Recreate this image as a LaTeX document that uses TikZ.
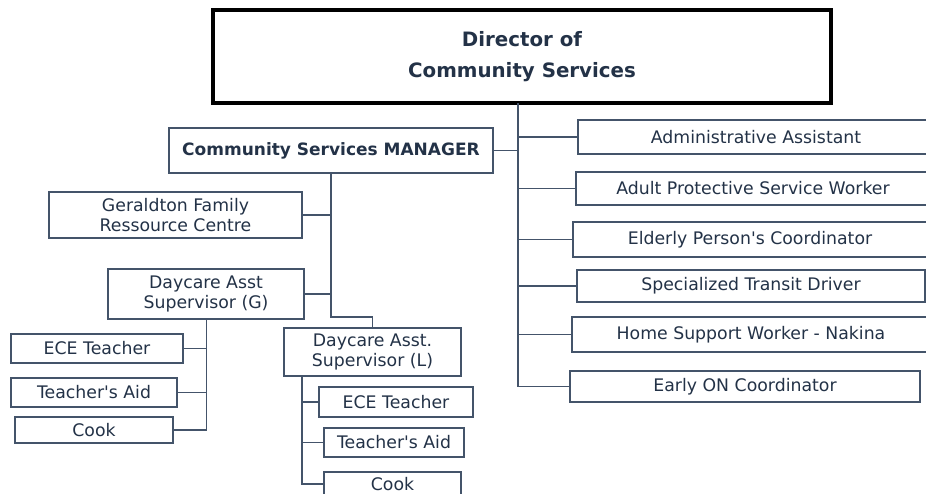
\documentclass[tikz,border=0pt]{standalone}
\usepackage{fontspec}
\setmainfont{DejaVu Sans}[Ligatures=TeXOff]
\definecolor{ink}{HTML}{233247}
\definecolor{rule}{HTML}{44546A}
\begin{document}
\begin{tikzpicture}[x=1pt,y=-1pt,
  box/.style={draw=rule,line width=1.6pt,fill=white,inner sep=0pt,text=ink,
    align=center,font=\fontsize{17.3}{19.5}\selectfont},
  link/.style={draw=rule,line width=1.6pt},
  chief/.style={draw=black,line width=4pt,fill=white,inner sep=0pt,text=ink,
    align=center,font=\bfseries\fontsize{19.8}{31}\selectfont}]
\clip (0,0) rectangle (926,493);
\fill[white] (0,0) rectangle (926,493);

% director
\node[chief,minimum width=618,minimum height=93] (dir) at (522,56.5) {Director of\\Community Services};
\coordinate (t) at (518,103);

% manager branch
\node[box,font=\bfseries\fontsize{17}{20}\selectfont,minimum width=324,minimum height=45] (mgr) at (331,150.5) {Community Services MANAGER};
\node[box,minimum width=253,minimum height=46] (ger) at (175.5,215) {Geraldton Family\\Ressource Centre};
\node[box,minimum width=196,minimum height=50] (dg) at (206,294) {Daycare Asst\\Supervisor (G)};
\node[box,minimum width=177,minimum height=48] (dl) at (372.5,352) {Daycare Asst.\\Supervisor (L)};

\node[box,minimum width=172,minimum height=29] (ece1) at (97,348.5) {ECE Teacher};
\node[box,minimum width=166,minimum height=29] (ta1) at (94,392.5) {Teacher's Aid};
\node[box,minimum width=158,minimum height=26] (cook1) at (94,430) {Cook};

\node[box,minimum width=154,minimum height=30] (ece2) at (396,402) {ECE Teacher};
\node[box,minimum width=140,minimum height=29] (ta2) at (394,442.5) {Teacher's Aid};
\node[box,minimum width=137,minimum height=24] (cook2) at (392.5,484) {Cook};

% direct reports of the director
\node[box,minimum width=356,minimum height=34] (adm) at (756,137) {Administrative Assistant};
\node[box,minimum width=354,minimum height=33] (apw) at (753,188.5) {Adult Protective Service Worker};
\node[box,minimum width=354,minimum height=35] (epc) at (750,239.5) {Elderly Person's Coordinator};
\node[box,minimum width=348,minimum height=32] (std) at (751,286) {Specialized Transit Driver};
\node[box,minimum width=358,minimum height=35] (hsw) at (751,334.5) {Home Support Worker - Nakina};
\node[box,minimum width=350,minimum height=31] (eon) at (745,386.5) {Early ON Coordinator};

% connectors
\foreach \n in {adm,apw,epc,std,hsw,eon} \draw[link] (t) |- (\n.west);
\draw[link] (mgr.east) -- (t |- mgr.east);
\draw[link] (mgr.south) |- (ger.east);
\draw[link] (mgr.south) |- (dg.east);
\coordinate (bend) at (331,317);
\draw[link] (mgr.south) -- (bend) -| (dl.north);
\coordinate (gb) at (206.5,319);
\foreach \n in {ece1,ta1,cook1} \draw[link] (gb) |- (\n.east);
\coordinate (lb) at (302,376);
\foreach \n in {ece2,ta2,cook2} \draw[link] (lb) |- (\n.west);
\end{tikzpicture}
\end{document}
